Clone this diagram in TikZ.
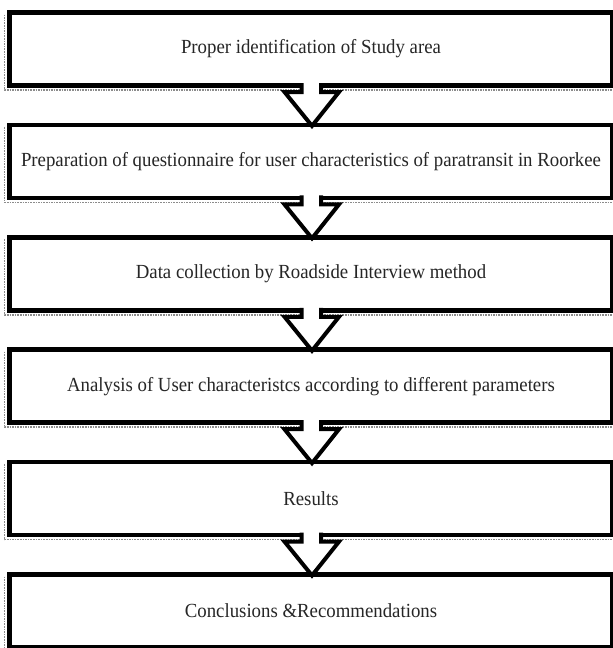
\documentclass[tikz,border=0pt]{standalone}
\usepackage{fontspec}
\setmainfont[FakeStretch=0.94]{Liberation Serif}
\usetikzlibrary{calc}
\tikzset{
  stepbox/.style={draw=black, line width=4.5pt, fill=white, minimum width=603pt, minimum height=73pt,
    inner sep=0pt, outer sep=0pt, font=\fontsize{20}{24}\selectfont, text=black!85},
  shadowline/.style={draw=black!45, line width=1.6pt, densely dotted},
  blockarrow/.style={draw=black, fill=white, line width=4pt, line join=miter}
}
\begin{document}
\begin{tikzpicture}[x=1pt,y=1pt]
\useasboundingbox (0,0) rectangle (613,-648);
% shadows
\foreach \i in {0,...,5}{
  \pgfmathsetmacro{\yt}{-(12.5+112.4*\i)}
  \pgfmathsetmacro{\yb}{\yt-73}
  \draw[shadowline] (4.5,\yt-2) -- (4.5,\yb-4.5) -- (613,\yb-4.5);
}
\node[stepbox] (b1) at (311,-49) {Proper identification of Study area};
\node[stepbox] (b2) at (311,-161.4) {Preparation of questionnaire for user characteristics of paratransit in Roorkee};
\node[stepbox] (b3) at (311,-273.8) {Data collection by Roadside Interview method};
\node[stepbox] (b4) at (311,-386.2) {Analysis of User characteristcs according to different parameters};
\node[stepbox] (b5) at (311,-498.6) {Results};
\node[stepbox] (b6) at (311,-611) {Conclusions \&Recommendations};
\foreach \a/\b in {b1/b2,b2/b3,b3/b4,b4/b5,b5/b6}{
  \filldraw[blockarrow] ($(\a.south)+(-9.5,2.5)$) -- ++(0,-9) -- ++(-17,0)
     -- ($(\b.north)+(1,-1)$) -- ($(\a.south)+(28,-6.5)$) -- ++(-18,0) -- ++(0,9);
}
\end{tikzpicture}
\end{document}
